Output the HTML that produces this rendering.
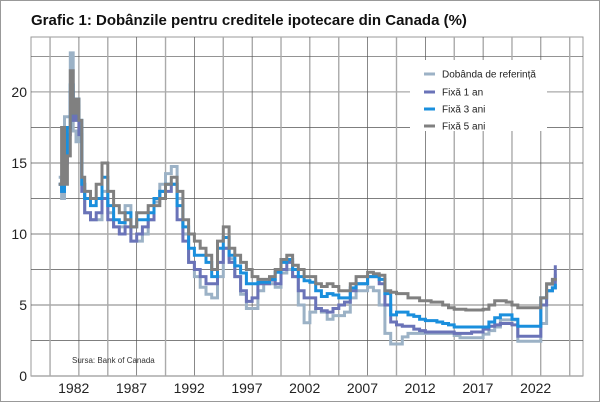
<!DOCTYPE html>
<html><head><meta charset="utf-8"><style>
html,body{margin:0;padding:0;background:#fff;}
svg{display:block;font-family:"Liberation Sans",sans-serif;}
</style></head><body>
<svg id="chart" width="600" height="402" viewBox="0 0 600 402">
<rect x="0.5" y="0.5" width="599" height="401" fill="#fff" stroke="#999"/>
<text x="31" y="25" font-size="15" font-weight="bold" fill="#111">Grafic 1: Dobânzile pentru creditele ipotecare din Canada (%)</text>
<g id="grid"></g>
<g id="axes"></g>
<g id="series"></g>
<text x="72" y="363" font-size="8" fill="#333">Sursa: Bank of Canada</text>
<g>
<rect x="410" y="60" width="137" height="71" fill="#fff"/>
<g><line x1="424" y1="74" x2="435" y2="74" stroke="#9cb2c6" stroke-width="3"/><text x="442" y="77.5" font-size="10" fill="#222">Dobânda de referință</text></g>
<g><line x1="424" y1="92" x2="435" y2="92" stroke="#6a73b8" stroke-width="3"/><text x="442" y="95.5" font-size="10" fill="#222">Fixă 1 an</text></g>
<g><line x1="424" y1="109" x2="435" y2="109" stroke="#1a8fdd" stroke-width="3"/><text x="442" y="112.5" font-size="10" fill="#222">Fixă 3 ani</text></g>
<g><line x1="424" y1="126" x2="435" y2="126" stroke="#808080" stroke-width="3"/><text x="442" y="129.5" font-size="10" fill="#222">Fixă 5 ani</text></g>
</g>
</svg>
<script>
const dates = [1980.75,1981,1981.25,1981.5,1981.75,1982,1982.25,1982.5,1982.75,
1983,1983.5,1984,1984.5,1985,1985.5,1986,1986.5,1987,1987.5,
1988,1988.5,1989,1989.5,1990,1990.5,1991,1991.5,1992,1992.5,
1993,1993.5,1994,1994.5,1995,1995.5,1996,1996.5,1997,1997.5,
1998,1998.5,1999,1999.5,2000,2000.5,2001,2001.5,2002,2002.5,
2003,2003.5,2004,2004.5,2005,2005.5,2006,2006.5,2007,2007.5,
2008,2008.5,2009,2009.5,2010,2010.5,2011,2011.5,2012,2012.5,
2013,2013.5,2014,2014.5,2015,2015.5,2016,2016.5,2017,2017.5,
2018,2018.5,2019,2019.5,2020,2020.5,2021,2021.5,2022,2022.5,
2023,2023.5,2023.75];
const primeRate = [14,12.5,18.25,18.25,22.75,17.25,16.5,17.5,13.5,
11.5,11,11,13,11.5,10.5,10.5,12,9.5,9.5,
10,11,12.25,13.5,14.25,14.75,12.5,10,8,7,
6.25,5.75,5.5,7,9,8.25,7,5.75,4.75,4.75,
6,6.5,6.5,6.25,7.25,7.5,7,5,3.75,4.5,
4.75,4.5,4,4.25,4.25,4.5,5.5,6,6,6.25,
6,5,3,2.25,2.25,2.75,3,3,3,3,
3,3,3,3,2.85,2.7,2.7,2.7,2.7,2.95,
3.2,3.45,3.95,3.95,3.95,2.45,2.45,2.45,2.45,3.7,
6.45,6.7,7.2];
const fixed1 = [13.5,13,15,17,20,18,19,17,13,
11.5,11,11.5,12.5,11,10.5,10,10.5,9.5,10,
10.5,11,12.5,13,13,13.5,11,9.5,8,7.5,
7,6.5,6.5,8,9,8,7,6,5.25,5.5,
6.5,6.5,6.75,6.5,7.5,8,7,6,5.5,5.5,
4.75,4.6,4.5,4.75,5,5.2,6,6.5,6.5,7,
7,6.5,5,3.8,3.6,3.5,3.5,3.3,3.2,3.1,
3.1,3.1,3.1,3.1,3,3,3,3.1,3.1,3.3,
3.5,3.6,3.7,3.7,3.6,2.8,2.8,2.8,2.8,5,
6,6.2,7.8];
const fixed3 = [13.5,13,15.5,17.5,20.5,18.5,19.5,18,13.5,
12.5,12,12.5,14,12,11,10.8,11.5,10.5,11,
11,11.5,12.5,13,13.5,13.5,12,10.5,9,8.5,
8.5,8,7,9,9.75,8.5,7.75,7.25,6.5,6.5,
6.6,6.6,6.8,7.3,8,8.2,7.5,7,6.7,6.6,
6,5.6,5.8,5.7,5.5,5.5,6.2,6.5,6.5,7,
7,6.8,5.8,4.3,4.5,4.5,4.3,4.2,4,3.9,
3.9,3.8,3.7,3.6,3.45,3.45,3.45,3.45,3.45,3.45,
3.8,4.1,4.3,4.3,4,3.5,3.5,3.5,3.5,5.5,
6,6.2,6.5];
const fixed5 = [13.5,17.5,13.5,15.5,21.5,18.5,19.5,18,14,
13,12.5,13.5,15,13,12,11.5,11,10.5,11.5,
11.5,12,12,12.5,13.5,14,13,11,10,9.5,
9,8.5,7.5,9.5,10.5,9,8.5,8,7.5,7,
6.8,6.8,7,7.5,8.2,8.5,7.8,7.5,7,7,
6.5,6.3,6.5,6.3,6,6,6.5,7,7,7.3,
7.2,7.1,6,5.9,5.8,5.8,5.5,5.5,5.3,5.3,
5.2,5.2,5,4.8,4.7,4.7,4.65,4.65,4.65,4.7,
5,5.3,5.3,5.2,5,4.8,4.8,4.8,4.8,5.5,
6.5,6.8,6.9];
const yTickLabels = ["0","5","10","15","20"];
const yTickValues = [0,5,10,15,20];
const xTickLabels = ["1982","1987","1992","1997","2002","2007","2012","2017","2022"];

const X0=31,X1=583,Y0=376,Y1=37,T0=1978.35,T1=2026.15,V0=0,V1=23.87;
function xs(t){return X0+(t-T0)/(T1-T0)*(X1-X0);}
function ys(v){return Y0-(v-V0)/(V1-V0)*(Y0-Y1);}
const NS="http://www.w3.org/2000/svg";
function mk(tag,attrs,parent){const e=document.createElementNS(NS,tag);for(const k in attrs)e.setAttribute(k,attrs[k]);parent.appendChild(e);return e;}
const grid=document.getElementById('grid'),axes=document.getElementById('axes'),ser=document.getElementById('series');
const bg=mk('rect',{x:X0,y:Y1,width:X1-X0,height:Y0-Y1,fill:'#fff',stroke:'#999','stroke-width':1},grid);


for(let v=2.5;v<V1;v+=2.5){
  const l=mk('line',{x1:X0,x2:X1,y1:ys(v),y2:ys(v),stroke:'#555','stroke-width':0.7},grid);
  
  
}
for(let t=1980;t<T1;t+=2.5){
  const l=mk('line',{x1:xs(t),x2:xs(t),y1:Y1,y2:Y0,stroke:(t%5===0?'#aaa':'#555'),'stroke-width':(t%5===0?1.4:0.7)},grid);
  
  
}
const ax=mk('line',{x1:X0,x2:X1,y1:Y0,y2:Y0,stroke:'#aaa','stroke-width':1.5},axes);


yTickValues.forEach((v,i)=>{
  const t=mk('text',{x:X0-4,y:ys(v)+5,'font-size':14,'text-anchor':'end',fill:'#222'},axes);
  t.textContent=yTickLabels[i];
  
  
});
xTickLabels.forEach(lab=>{
  const t=mk('text',{x:xs(+lab+0.05),y:393,'font-size':14,'text-anchor':'middle',fill:'#222'},axes);
  t.textContent=lab;
  
  
});
function stepPath(vals){
  let d='M'+xs(dates[0]).toFixed(1)+','+ys(vals[0]).toFixed(1);
  for(let i=1;i<dates.length;i++){
    d+='H'+xs(dates[i]).toFixed(1)+'V'+ys(vals[i]).toFixed(1);
  }
  return d;
}
const seriesDefs=[[primeRate,'#9cb2c6','series-prime-rate'],[fixed1,'#6a73b8','series-fixed-1-year'],[fixed3,'#1a8fdd','series-fixed-3-years'],[fixed5,'#808080','series-fixed-5-years']];
seriesDefs.forEach(s=>{
  const p=mk('path',{d:stepPath(s[0]),fill:'none',stroke:s[1],'stroke-width':3,'stroke-linejoin':'miter'},ser);
  
  
});
</script>
</body></html>
